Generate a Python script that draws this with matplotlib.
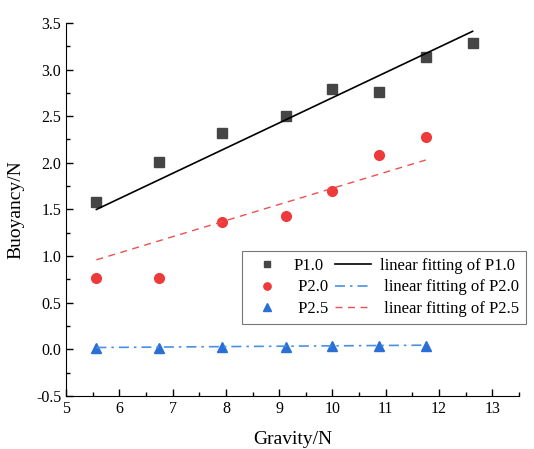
import matplotlib; matplotlib.use("Agg")
import matplotlib.pyplot as plt
import numpy as np
from matplotlib.ticker import MultipleLocator

plt.rcParams["font.family"] = ["Liberation Serif", "DejaVu Serif"]

# data
gravity = [5.57, 6.75, 7.93, 9.12, 10.0, 10.87, 11.75, 12.63]
p10 = [1.58, 2.01, 2.32, 2.50, 2.79, 2.76, 3.13, 3.28]
p20 = [0.77, 0.77, 1.37, 1.43, 1.70, 2.08, 2.28]
p25 = [0.01, 0.02, 0.03, 0.03, 0.04, 0.04, 0.04]
fit10 = [1.50, 3.41]      # ends of fitted line, x = 5.57 .. 12.63
fit20 = [0.96, 2.03]      # x = 5.57 .. 11.75
fit25 = [0.02, 0.045]     # x = 5.57 .. 11.75

g7 = gravity[:7]
fig = plt.figure(figsize=(5.34, 4.49), dpi=100)
ax = fig.add_axes([0.1236, 0.118, 0.8483, 0.831])

m1, = ax.plot(gravity, p10, "s", color="#454545", ms=6.5, ls="none", label="P1.0")
m2, = ax.plot(g7, p20, "o", color="#ee3a3a", ms=7, ls="none", label=" P2.0")
m3, = ax.plot(g7, p25, "^", color="#2a6fd6", ms=7, ls="none", label=" P2.5")
l1, = ax.plot([gravity[0], gravity[-1]], fit10, "-", color="black", lw=1.2,
              label="linear fitting of P1.0")
l2, = ax.plot([g7[0], g7[-1]], fit25, color="#4a90e2", lw=1.2,
              ls=(0, (6, 3, 1.5, 3)), label=" linear fitting of P2.0")
l3, = ax.plot([g7[0], g7[-1]], fit20, color="#ee5050", lw=1.0,
              ls=(0, (5, 4)), label=" linear fitting of P2.5")

ax.set_xlim(5, 13.5)
ax.set_ylim(-0.5, 3.5)
ax.xaxis.set_major_locator(MultipleLocator(1))
ax.xaxis.set_minor_locator(MultipleLocator(0.5))
ax.yaxis.set_minor_locator(MultipleLocator(0.25))
ax.set_yticks(np.arange(-0.5, 3.51, 0.5))
ax.set_yticklabels([f"{v:.1f}" for v in np.arange(-0.5, 3.51, 0.5)])
ax.tick_params(which="both", direction="in", labelsize=11.5, width=1)
ax.tick_params(which="major", length=5)
ax.tick_params(which="minor", length=3)
ax.spines["top"].set_visible(False)
ax.spines["right"].set_visible(False)
ax.set_xlabel("Gravity/N", fontsize=14, labelpad=10)
ax.set_ylabel("Buoyancy/N", fontsize=14, labelpad=8)

leg = ax.legend(handles=[m1, m2, m3, l1, l2, l3], ncol=2, fontsize=12,
                loc="upper left", bbox_to_anchor=(0.389, 0.389),
                fancybox=False, edgecolor="#555555", markerscale=0.75,
                handlelength=2.2, handletextpad=0.5, borderaxespad=0,
                labelspacing=0.35, columnspacing=0.4, borderpad=0.4)
leg.get_frame().set_linewidth(0.8)

fig.savefig("out.png", dpi=100)
